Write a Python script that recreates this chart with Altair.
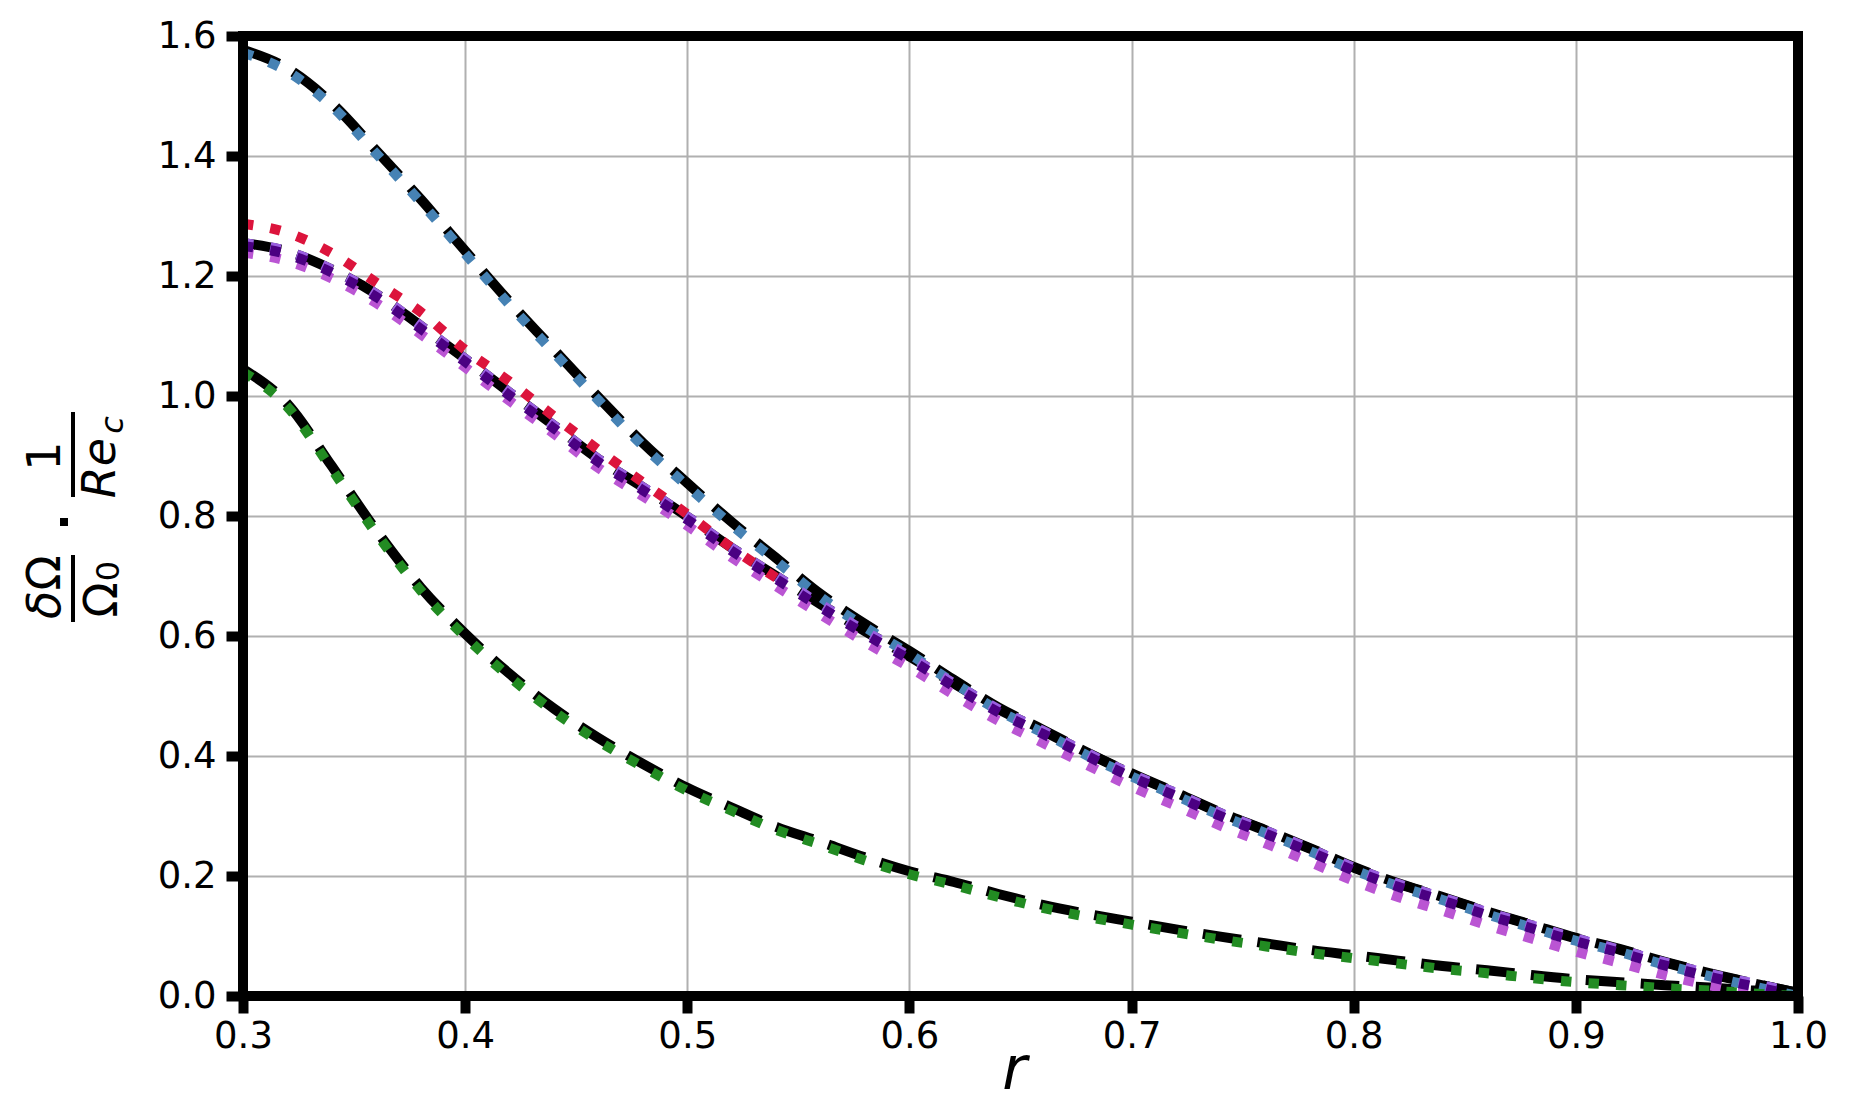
import altair as alt
import pandas as pd

# radial coordinate
r = [0.30, 0.32, 0.34, 0.36, 0.38, 0.40, 0.42, 0.44, 0.46, 0.48, 0.50, 0.52,
     0.54, 0.56, 0.58, 0.60, 0.62, 0.64, 0.66, 0.68, 0.70, 0.72, 0.74, 0.76,
     0.78, 0.80, 0.82, 0.84, 0.86, 0.88, 0.90, 0.92, 0.94, 0.96, 0.98, 1.00]

blue = [1.572, 1.541, 1.483, 1.404, 1.323, 1.237, 1.152, 1.072, 0.993, 0.917, 0.850, 0.785,
        0.725, 0.665, 0.615, 0.570, 0.522, 0.476, 0.439, 0.401, 0.366, 0.334, 0.301, 0.272,
        0.242, 0.210, 0.183, 0.160, 0.136, 0.114, 0.092, 0.073, 0.052, 0.033, 0.016, 0.000]

purple = [1.250, 1.236, 1.206, 1.165, 1.112, 1.057, 1.001, 0.946, 0.890, 0.843, 0.794, 0.742,
          0.695, 0.648, 0.603, 0.561, 0.516, 0.473, 0.437, 0.400, 0.365, 0.333, 0.300, 0.271,
          0.241, 0.209, 0.182, 0.159, 0.135, 0.113, 0.091, 0.072, 0.051, 0.032, 0.016, 0.000]

orchid = [1.239, 1.225, 1.196, 1.155, 1.103, 1.048, 0.992, 0.937, 0.880, 0.833, 0.784, 0.731,
          0.683, 0.636, 0.590, 0.548, 0.502, 0.459, 0.422, 0.385, 0.349, 0.317, 0.284, 0.255,
          0.224, 0.192, 0.165, 0.142, 0.118, 0.096, 0.074, 0.055, 0.035, 0.018, 0.006, 0.000]

green = [1.040, 0.982, 0.878, 0.771, 0.676, 0.599, 0.532, 0.474, 0.425, 0.382, 0.342, 0.309,
         0.277, 0.252, 0.226, 0.203, 0.185, 0.165, 0.147, 0.132, 0.119, 0.106, 0.094, 0.083,
         0.072, 0.063, 0.054, 0.045, 0.038, 0.030, 0.023, 0.018, 0.013, 0.009, 0.004, 0.000]

red_r = [0.30, 0.32, 0.34, 0.36, 0.38, 0.40, 0.42, 0.44, 0.46, 0.48, 0.50, 0.52, 0.54]
red = [1.287, 1.272, 1.238, 1.189, 1.140, 1.077, 1.024, 0.966, 0.910, 0.856, 0.803, 0.747, 0.697]

x_ticks = [0.3, 0.4, 0.5, 0.6, 0.7, 0.8, 0.9, 1.0]
y_ticks = [0.0, 0.2, 0.4, 0.6, 0.8, 1.0, 1.2, 1.4, 1.6]

FONT = "DejaVu Sans"
W, H = 1555, 960

xscale = alt.Scale(domain=[0.3, 1.0], nice=False, zero=False)
yscale = alt.Scale(domain=[0.0, 1.6], nice=False, zero=False)

common_axis = dict(
    labelFont=FONT, labelFontSize=37, labelColor="black",
    tickColor="black", tickWidth=10, tickSize=17,
    domain=False, grid=True, gridColor="#b0b0b0", gridWidth=2,
    labelFlush=False, labelOverlap=False, format=".1f",
)
xaxis = alt.Axis(values=x_ticks, labelPadding=5, title="r", titleFont=FONT,
                 titleFontSize=60, titleFontStyle="italic", titleFontWeight="normal",
                 titleColor="black", titleX=771, titleY=92,
                 titleBaseline="alphabetic", titleAlign="center", **common_axis)
yaxis = alt.Axis(values=y_ticks, labelPadding=10, title=None, **common_axis)


def line_layer(rs, vs, color, dash, width, yoff=0):
    df = pd.DataFrame({"r": rs, "v": vs})
    return alt.Chart(df).mark_line(
        color=color, strokeDash=dash, strokeWidth=width, strokeCap="butt",
        interpolate="monotone", yOffset=yoff, clip=False,
    ).encode(
        x=alt.X("r:Q", scale=xscale, axis=xaxis),
        y=alt.Y("v:Q", scale=yscale, axis=yaxis),
    )


DASH = [38.5, 16.6]
DOT = [10.4, 17.2]
LW = 10

layers = [
    line_layer(r, blue, "black", DASH, LW, -3),
    line_layer(r, purple, "black", DASH, LW, -3),
    line_layer(r, green, "black", DASH, LW, -3),
    line_layer(r, blue, "#4682b4", DOT, LW),
    line_layer(red_r, red, "#dc143c", DOT, LW),
    line_layer(r, orchid, "#ba55d3", DOT, LW),
    line_layer(r, purple, "#9a5fe0", DOT, LW, -3),
    line_layer(r, purple, "#4b0082", DOT, LW),
    line_layer(r, green, "#228b22", DOT, LW),
]

one = alt.Data(values=[{"a": 1}])


def txt(s, x, y, size=46, italic=False):
    return alt.Chart(one).mark_text(
        angle=270, align="center", baseline="alphabetic", fontSize=size,
        font=FONT, fontStyle="italic" if italic else "normal", color="black",
    ).encode(x=alt.value(x), y=alt.value(y), text=alt.value(s))


def bar(x, y1, y2):
    return alt.Chart(one).mark_rule(color="black", strokeWidth=4).encode(
        x=alt.value(x), y=alt.value(y1), y2=alt.value(y2))


title_parts = [
    txt("δ", -183, 569, italic=True),
    txt("Ω", -183, 537),
    bar(-170, 519, 586),
    txt("Ω", -126, 564),
    txt("0", -124, 535, size=32),
    alt.Chart(one).mark_square(size=64, color="black", opacity=1).encode(
        x=alt.value(-179), y=alt.value(486)),
    txt("1", -183, 420),
    bar(-170, 376, 461),
    txt("Re", -128, 432, italic=True),
    txt("c", -120, 389, size=32, italic=True),
]

frame = alt.Chart(one).mark_rect(
    filled=False, stroke="black", strokeWidth=10, fillOpacity=0
).encode(x=alt.value(0), x2=alt.value(W), y=alt.value(0), y2=alt.value(H))

chart = alt.layer(*layers, *title_parts, frame).properties(
    width=W, height=H,
    autosize=alt.AutoSizeParams(type="none"),
    padding={"left": 235, "top": 28, "right": 45, "bottom": 110},
).configure_view(strokeWidth=0)

chart.save("out.html", embed_options={"renderer": "svg", "actions": False})
